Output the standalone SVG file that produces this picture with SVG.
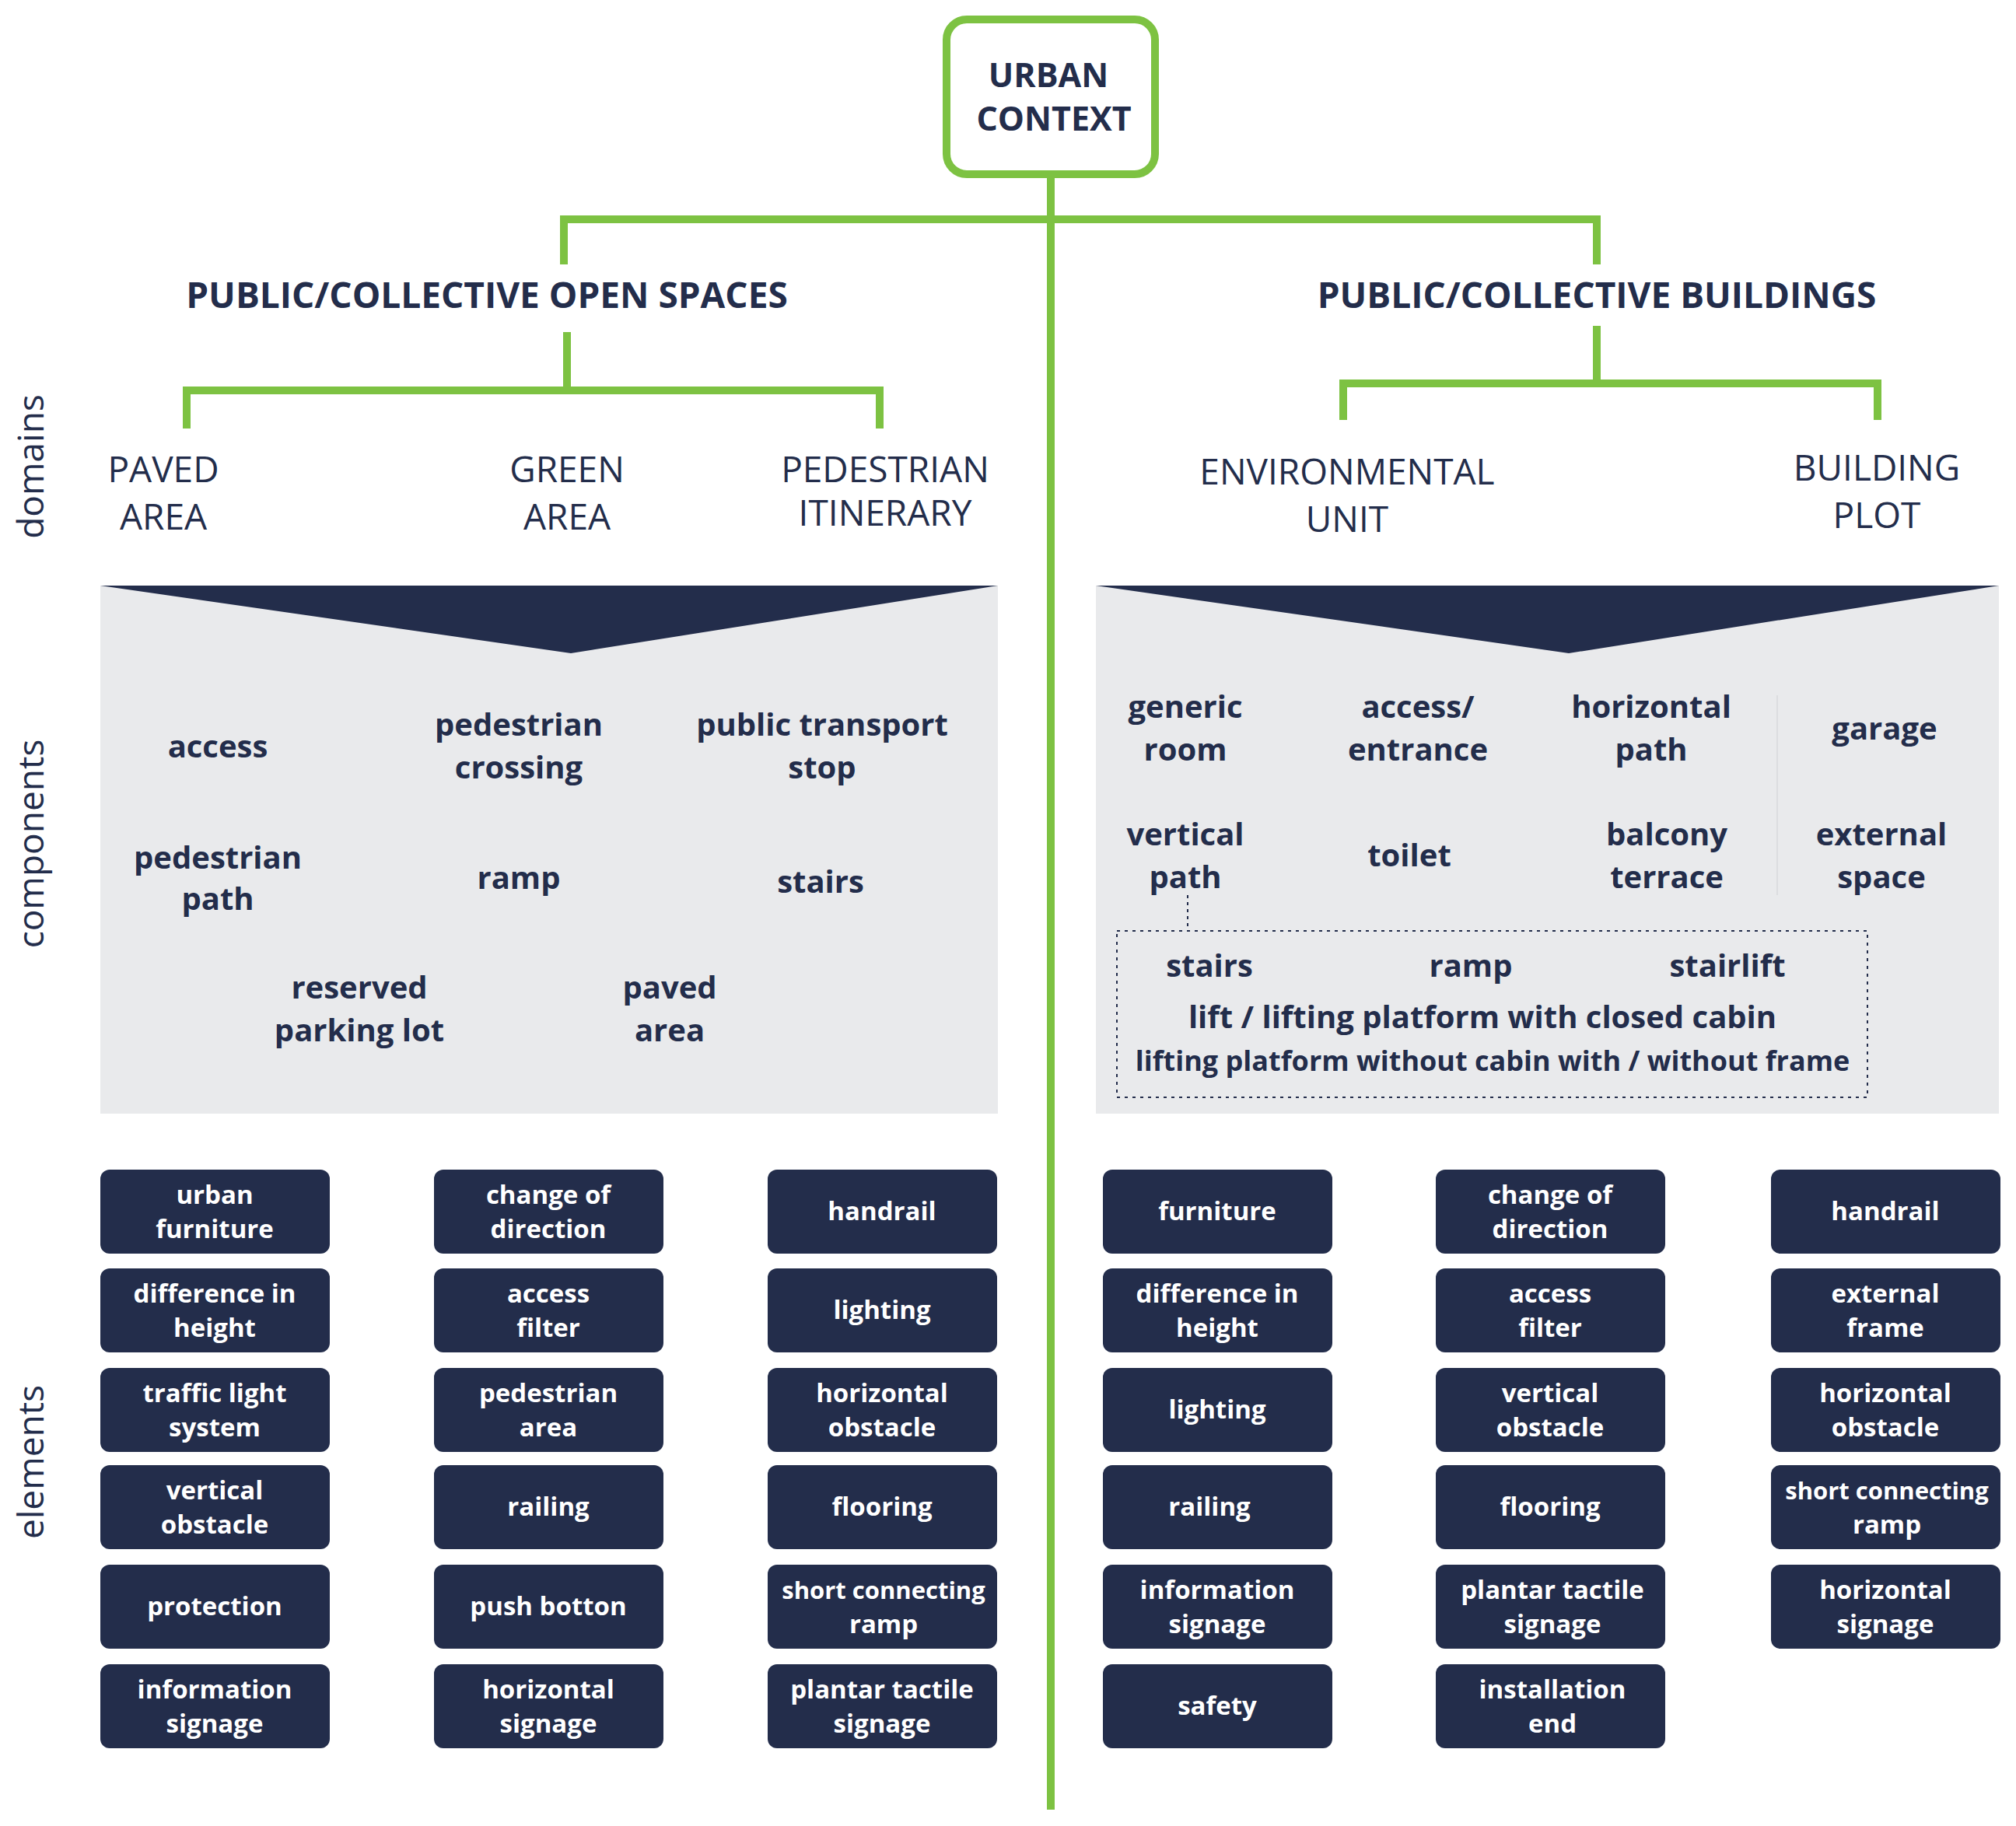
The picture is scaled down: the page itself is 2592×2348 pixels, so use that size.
<svg xmlns="http://www.w3.org/2000/svg" width="2592" height="2348" viewBox="0 0 2592 2348">
<style>
text{font-family:"Open Sans","Noto Sans",sans-serif;fill:#232d4b;text-anchor:middle}
.t{font-size:46px;font-weight:700}
.r{font-size:43px;font-weight:700}
.d{font-size:46px}
.c{font-size:40px;font-weight:700}
.e rect{fill:#232d4b}
.e text{fill:#fff;font-size:33px;font-weight:700}
.g{stroke:#7dc242;stroke-width:10;fill:none}
</style>
<rect width="2592" height="2348" fill="#fff"/>
<g id="connectors">
<path class="g" d="M1351 224V2327M725 340V282H2053V340M729 427V502M240 551V502H1131V551M2053 419V493M1727 540V493H2414V540"/>
</g>
<g id="root"><rect x="1217" y="25" width="268" height="199" rx="26" fill="#fff" stroke="#7dc242" stroke-width="10"/>
<text class="r" x="1348" y="112">URBAN</text><text class="r" x="1355" y="168">CONTEXT</text></g>
<g id="open"><text class="t" x="626" y="396">PUBLIC/COLLECTIVE OPEN SPACES</text></g>
<g id="buildings"><text class="t" x="2053" y="396">PUBLIC/COLLECTIVE BUILDINGS</text></g>
<g id="domains">
<text class="d" x="210" y="620">PAVED</text><text class="d" x="210" y="681">AREA</text>
<text class="d" x="729" y="620">GREEN</text><text class="d" x="729" y="681">AREA</text>
<text class="d" x="1138" y="620">PEDESTRIAN</text><text class="d" x="1138" y="676">ITINERARY</text>
<text class="d" x="1732" y="623">ENVIRONMENTAL</text><text class="d" x="1732" y="684">UNIT</text>
<text class="d" x="2413" y="618">BUILDING</text><text class="d" x="2413" y="679">PLOT</text>
</g>
<text class="d" transform="translate(56 600) rotate(-90)">domains</text>
<text class="d" transform="translate(56 1085) rotate(-90)">components</text>
<text class="d" transform="translate(56 1880) rotate(-90)">elements</text>
<g id="panelL"><rect x="129" y="753" width="1154" height="679" fill="#e9eaec"/><path d="M129 753H1283L734 840Z" fill="#232d4b"/>
<text class="c" x="280" y="974">access</text>
<text class="c" x="667" y="946">pedestrian</text><text class="c" x="667" y="1001">crossing</text>
<text class="c" x="1057" y="946">public transport</text><text class="c" x="1057" y="1001">stop</text>
<text class="c" x="280" y="1117">pedestrian</text><text class="c" x="280" y="1170">path</text>
<text class="c" x="667" y="1143">ramp</text>
<text class="c" x="1055" y="1148">stairs</text>
<text class="c" x="462" y="1284">reserved</text><text class="c" x="462" y="1339">parking lot</text>
<text class="c" x="861" y="1284">paved</text><text class="c" x="861" y="1339">area</text>
</g>
<g id="panelR"><rect x="1409" y="753" width="1161" height="679" fill="#e9eaec"/><path d="M1409 753H2570L2017 840Z" fill="#232d4b"/>
<path d="M2285 894V1151" stroke="#dcdde0" stroke-width="2"/>
<path d="M1527 1151V1197" stroke="#232d4b" stroke-width="2" stroke-dasharray="4 5"/>
<rect x="1436" y="1197" width="965" height="214" fill="none" stroke="#232d4b" stroke-width="2" stroke-dasharray="4 6"/>
<text class="c" x="1524" y="923">generic</text><text class="c" x="1524" y="978">room</text>
<text class="c" x="1823" y="923">access/</text><text class="c" x="1823" y="978">entrance</text>
<text class="c" x="2123" y="923">horizontal</text><text class="c" x="2123" y="978">path</text>
<text class="c" x="2423" y="951">garage</text>
<text class="c" x="1524" y="1087">vertical</text><text class="c" x="1524" y="1142">path</text>
<text class="c" x="1812" y="1114">toilet</text>
<text class="c" x="2143" y="1087">balcony</text><text class="c" x="2143" y="1142">terrace</text>
<text class="c" x="2419" y="1087">external</text><text class="c" x="2419" y="1142">space</text>
<text class="c" x="1555" y="1256">stairs</text><text class="c" x="1891" y="1256">ramp</text><text class="c" x="2221" y="1256">stairlift</text>
<text class="c" x="1906" y="1322" font-size="38">lift / lifting platform with closed cabin</text>
<text class="c" x="1919" y="1377" style="font-size:36px">lifting platform without cabin with / without frame</text>
</g>
<g class="e">
<g id="e1"><rect x="129" y="1504" width="295" height="108" rx="12"/><text x="276" y="1548">urban</text><text x="276" y="1592">furniture</text></g>
<g id="e2"><rect x="129" y="1631" width="295" height="108" rx="12"/><text x="276" y="1675">difference in</text><text x="276" y="1719">height</text></g>
<g id="e3"><rect x="129" y="1759" width="295" height="108" rx="12"/><text x="276" y="1803">traffic light</text><text x="276" y="1847">system</text></g>
<g id="e4"><rect x="129" y="1884" width="295" height="108" rx="12"/><text x="276" y="1928">vertical</text><text x="276" y="1972">obstacle</text></g>
<g id="e5"><rect x="129" y="2012" width="295" height="108" rx="12"/><text x="276" y="2077">protection</text></g>
<g id="e6"><rect x="129" y="2140" width="295" height="108" rx="12"/><text x="276" y="2184">information</text><text x="276" y="2228">signage</text></g>
<g id="e7"><rect x="558" y="1504" width="295" height="108" rx="12"/><text x="705" y="1548">change of</text><text x="705" y="1592">direction</text></g>
<g id="e8"><rect x="558" y="1631" width="295" height="108" rx="12"/><text x="705" y="1675">access</text><text x="705" y="1719">filter</text></g>
<g id="e9"><rect x="558" y="1759" width="295" height="108" rx="12"/><text x="705" y="1803">pedestrian</text><text x="705" y="1847">area</text></g>
<g id="e10"><rect x="558" y="1884" width="295" height="108" rx="12"/><text x="705" y="1949">railing</text></g>
<g id="e11"><rect x="558" y="2012" width="295" height="108" rx="12"/><text x="705" y="2077">push botton</text></g>
<g id="e12"><rect x="558" y="2140" width="295" height="108" rx="12"/><text x="705" y="2184">horizontal</text><text x="705" y="2228">signage</text></g>
<g id="e13"><rect x="987" y="1504" width="295" height="108" rx="12"/><text x="1134" y="1569">handrail</text></g>
<g id="e14"><rect x="987" y="1631" width="295" height="108" rx="12"/><text x="1134" y="1696">lighting</text></g>
<g id="e15"><rect x="987" y="1759" width="295" height="108" rx="12"/><text x="1134" y="1803">horizontal</text><text x="1134" y="1847">obstacle</text></g>
<g id="e16"><rect x="987" y="1884" width="295" height="108" rx="12"/><text x="1134" y="1949">flooring</text></g>
<g id="e17"><rect x="987" y="2012" width="295" height="108" rx="12"/><text x="1136" y="2056" style="font-size:31px">short connecting</text><text x="1136" y="2100">ramp</text></g>
<g id="e18"><rect x="987" y="2140" width="295" height="108" rx="12"/><text x="1134" y="2184">plantar tactile</text><text x="1134" y="2228">signage</text></g>
<g id="e19"><rect x="1418" y="1504" width="295" height="108" rx="12"/><text x="1565" y="1569">furniture</text></g>
<g id="e20"><rect x="1418" y="1631" width="295" height="108" rx="12"/><text x="1565" y="1675">difference in</text><text x="1565" y="1719">height</text></g>
<g id="e21"><rect x="1418" y="1759" width="295" height="108" rx="12"/><text x="1565" y="1824">lighting</text></g>
<g id="e22"><rect x="1418" y="1884" width="295" height="108" rx="12"/><text x="1555" y="1949">railing</text></g>
<g id="e23"><rect x="1418" y="2012" width="295" height="108" rx="12"/><text x="1565" y="2056">information</text><text x="1565" y="2100">signage</text></g>
<g id="e24"><rect x="1418" y="2140" width="295" height="108" rx="12"/><text x="1565" y="2205">safety</text></g>
<g id="e25"><rect x="1846" y="1504" width="295" height="108" rx="12"/><text x="1993" y="1548">change of</text><text x="1993" y="1592">direction</text></g>
<g id="e26"><rect x="1846" y="1631" width="295" height="108" rx="12"/><text x="1993" y="1675">access</text><text x="1993" y="1719">filter</text></g>
<g id="e27"><rect x="1846" y="1759" width="295" height="108" rx="12"/><text x="1993" y="1803">vertical</text><text x="1993" y="1847">obstacle</text></g>
<g id="e28"><rect x="1846" y="1884" width="295" height="108" rx="12"/><text x="1993" y="1949">flooring</text></g>
<g id="e29"><rect x="1846" y="2012" width="295" height="108" rx="12"/><text x="1996" y="2056">plantar tactile</text><text x="1996" y="2100">signage</text></g>
<g id="e30"><rect x="1846" y="2140" width="295" height="108" rx="12"/><text x="1996" y="2184">installation</text><text x="1996" y="2228">end</text></g>
<g id="e31"><rect x="2277" y="1504" width="295" height="108" rx="12"/><text x="2424" y="1569">handrail</text></g>
<g id="e32"><rect x="2277" y="1631" width="295" height="108" rx="12"/><text x="2424" y="1675">external</text><text x="2424" y="1719">frame</text></g>
<g id="e33"><rect x="2277" y="1759" width="295" height="108" rx="12"/><text x="2424" y="1803">horizontal</text><text x="2424" y="1847">obstacle</text></g>
<g id="e34"><rect x="2277" y="1884" width="295" height="108" rx="12"/><text x="2426" y="1928" style="font-size:31px">short connecting</text><text x="2426" y="1972">ramp</text></g>
<g id="e35"><rect x="2277" y="2012" width="295" height="108" rx="12"/><text x="2424" y="2056">horizontal</text><text x="2424" y="2100">signage</text></g>
</g>
</svg>
